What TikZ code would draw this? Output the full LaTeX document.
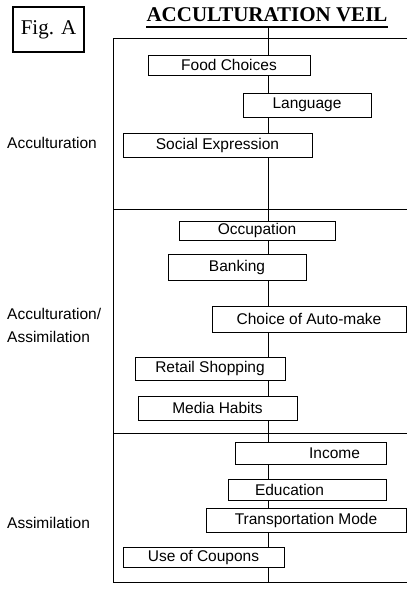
\documentclass[tikz,border=0pt]{standalone}
\usepackage{fontspec}
\setmainfont{Liberation Sans}
\newfontfamily\figfont{Liberation Serif}
\usepackage{tikz}
\usetikzlibrary{calc}

\tikzset{
  veilbox/.style={draw, fill=white, line width=0.9pt, inner sep=0pt,
    font=\fontsize{15.5}{18}\selectfont},
  sidelabel/.style={anchor=west, align=left, inner sep=0pt,
    font=\fontsize{15.5}{23}\selectfont}
}

\begin{document}
\begin{tikzpicture}[x=1pt,y=-1pt]
  \useasboundingbox (0,0) rectangle (407,593);

  % Heading
  \node[draw, line width=1.2pt, minimum width=71pt, minimum height=45pt,
    font=\figfont\fontsize{21}{24}\selectfont] (figlabel) at (48.5,29.5) {Fig. A};
  \node[inner sep=0pt, font=\figfont\bfseries\fontsize{21}{24}\selectfont]
    (veiltitle) at (267,15) {ACCULTURATION VEIL};
  \draw[line width=2pt] ([yshift=-5pt]veiltitle.south west) -- ([yshift=-5pt]veiltitle.south east);

  % Frame and section dividers
  \draw[line width=0.9pt] (407,38) -- (113,38) -- (113,582) -- (407,582);
  \draw[line width=0.9pt] (113,209) -- (407,209);
  \draw[line width=0.9pt] (113,433) -- (407,433);

  % The veil (centre line)
  \coordinate (veiltop) at (268,27);
  \coordinate (veilbot) at (268,582);
  \draw[line width=0.9pt] (veiltop) -- (veilbot);

  % Section 1 - acculturation
  \node[sidelabel] (acclabel) at (7,143) {Acculturation};
  \node[veilbox, minimum width=162pt, minimum height=20pt] (food) at (229,65) {Food Choices};
  \node[veilbox, minimum width=128pt, minimum height=24pt] (language) at (307,105) {Language};
  \node[veilbox, minimum width=189pt, minimum height=24pt] (social) at (217.5,145) {Social Expression};

  % Section 2 - acculturation / assimilation
  \node[sidelabel] (mixlabel) at (7,325) {Acculturation/\\Assimilation};
  \node[veilbox, minimum width=156pt, minimum height=19pt] (occupation) at (257,230.5) {Occupation};
  \node[veilbox, minimum width=138pt, minimum height=26pt] (banking) at (237,267) {Banking};
  \node[veilbox, minimum width=194pt, minimum height=26pt] (automake) at (309,319) {Choice of Auto-make};
  \node[veilbox, minimum width=150pt, minimum height=23pt] (retail) at (210,368.5) {Retail Shopping};
  \node[veilbox, minimum width=159pt, minimum height=24pt] (media) at (217.5,408) {Media Habits};

  % Section 3 - assimilation
  \node[sidelabel] (asslabel) at (7,523) {Assimilation};
  \node[veilbox, text width=99pt, align=right, inner xsep=26pt, minimum height=22pt] (income) at (310.5,453) {Income};
  \node[veilbox, text width=104pt, align=left, inner xsep=27pt, minimum height=21pt] (education) at (307,489.5) {Education};
  \node[veilbox, minimum width=200pt, minimum height=24pt] (transport) at (306,520) {Transportation Mode};
  \node[veilbox, minimum width=161pt, minimum height=20pt] (coupons) at (203.5,557) {Use of Coupons};
\end{tikzpicture}
\end{document}
